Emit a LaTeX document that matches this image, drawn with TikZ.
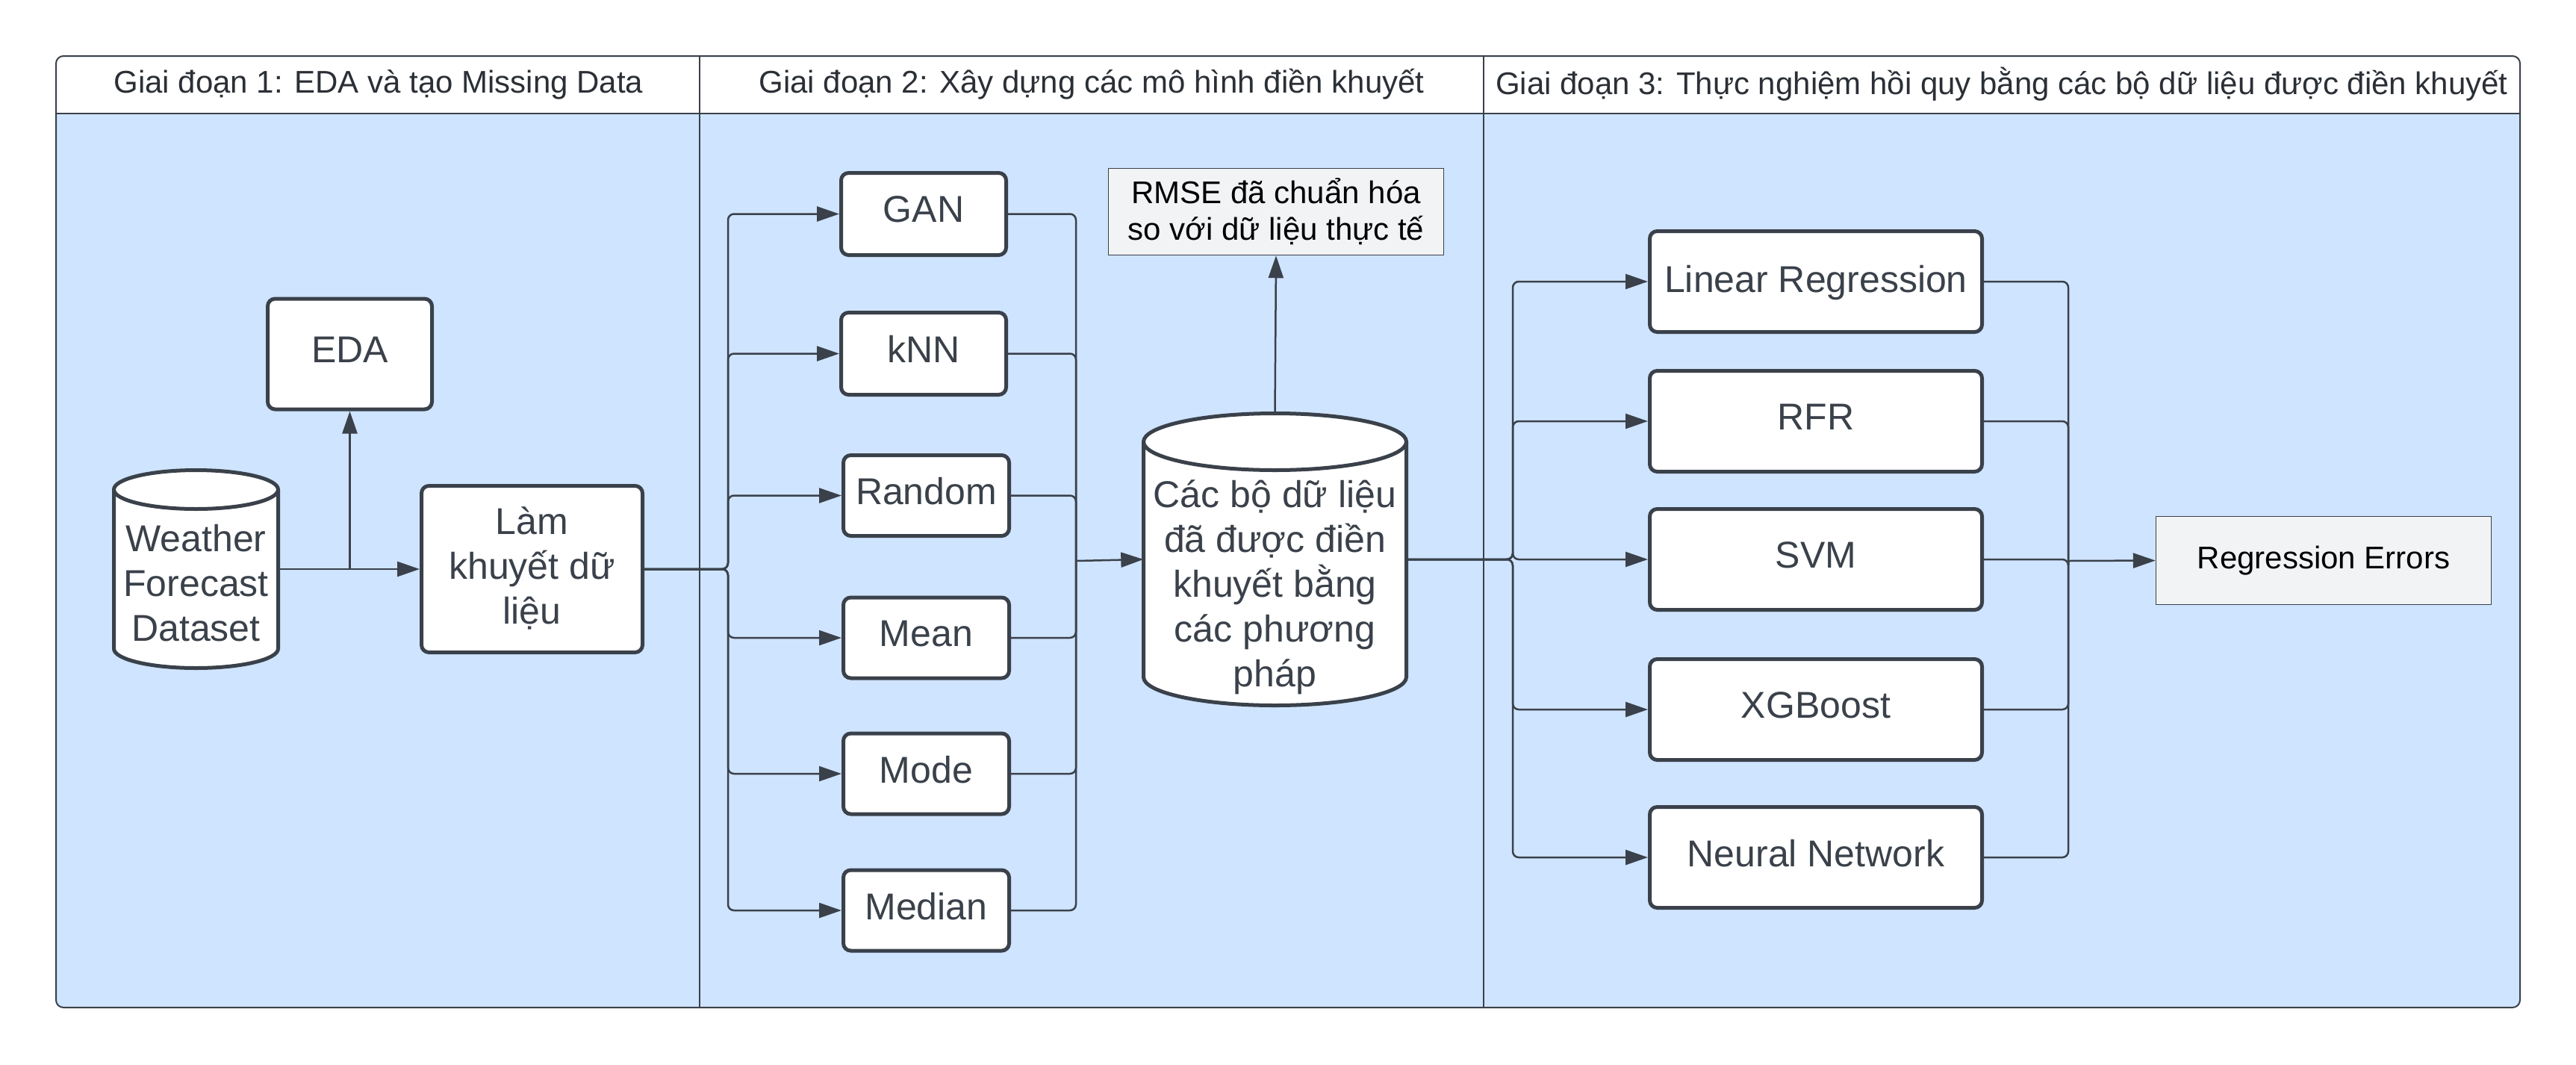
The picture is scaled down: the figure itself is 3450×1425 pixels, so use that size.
\documentclass[tikz,border=0pt]{standalone}
\usepackage{fontspec}
\setmainfont{Liberation Sans}
\usetikzlibrary{arrows.meta,backgrounds}
\definecolor{lc}{HTML}{3A414A}
\definecolor{bluebg}{HTML}{CFE4FF}
\definecolor{grayfill}{HTML}{F2F3F5}
\definecolor{hdr}{HTML}{2B2F36}
\begin{document}
\begin{tikzpicture}[x=1pt,y=1pt,
  box/.style={draw=lc, line width=5pt, rounded corners=10pt, fill=white, text=lc,
    font=\fontsize{50}{60}\selectfont, align=center, inner sep=0pt, text depth=12pt},
  box3/.style={box, text depth=8pt},
  note/.style={draw=lc, line width=1.5pt, fill=grayfill, text=black,
    font=\fontsize{42}{49}\selectfont, align=center, inner sep=0pt},
  cyltext/.style={text=lc, font=\fontsize{50}{60}\selectfont, align=center, inner sep=0pt},
  cylshape/.style={draw=lc, line width=5pt, fill=white},
  hdrtext/.style={text=hdr, font=\fontsize{42}{50}\selectfont, inner sep=0pt},
  conn/.style={draw=lc, line width=2.5pt, rounded corners=8pt, -{Triangle[length=30pt,width=20pt]}},
  link/.style={draw=lc, line width=2.5pt, rounded corners=8pt},
  frameline/.style={draw=lc, line width=2pt}
]
\useasboundingbox (0,0) rectangle (3450,-1425);
\fill[white] (0,0) rectangle (3450,-1425);

% ---- frame ----
\fill[bluebg, rounded corners=10pt] (75,-75) rectangle (3375,-1349);
\fill[white] (75,-152) [rounded corners=10pt] -- (75,-75) -- (3375,-75) [sharp corners] -- (3375,-152) -- cycle;
\draw[frameline, rounded corners=10pt] (75,-75) rectangle (3375,-1349);
\draw[frameline] (75,-152) -- (3375,-152);
\draw[frameline] (937,-75) -- (937,-1349);
\draw[frameline] (1987,-75) -- (1987,-1349);

\node[hdrtext] (h1) at (507,-113) {Giai đoạn 1: EDA và tạo Missing Data};
\node[hdrtext] (h2) at (1462,-113) {Giai đoạn 2: Xây dựng các mô hình điền khuyết};
\node[hdrtext] (h3) at (2681,-113) {Giai đoạn 3: Thực nghiệm hồi quy bằng các bộ dữ liệu được điền khuyết};

% ---- stage 1 ----
\node[minimum width=220pt, minimum height=265pt, inner sep=0pt] (wf) at (262.5,-762) {};
\draw[cylshape] (152.5,-655.5) -- (152.5,-868.5) arc[start angle=180, end angle=360, x radius=110, y radius=26]
  -- (372.5,-655.5) arc[start angle=0, end angle=180, x radius=110, y radius=26] -- cycle;
\draw[draw=lc, line width=5pt] (152.5,-655.5) arc[start angle=180, end angle=360, x radius=110, y radius=26];
\node[cyltext] (wftext) at (262.5,-781) {Weather\\Forecast\\Dataset};

\node[box, minimum width=220pt, minimum height=148pt] (eda) at (468.5,-474) {EDA};
\node[box, text depth=10pt, minimum width=296pt, minimum height=223pt] (lam) at (712.5,-762) {Làm\\khuyết dữ\\liệu};

\coordinate (edaj) at (468.5,-762);
\draw[conn] (wf.east) -- (lam.west);
\draw[conn] (edaj) -- (eda.south);

% ---- stage 2 ----
\node[box, minimum width=221pt, minimum height=110pt] (gan) at (1237,-286.5) {GAN};
\node[box, minimum width=221pt, minimum height=110pt] (knn) at (1237,-473.5) {kNN};
\node[box, minimum width=222pt, minimum height=108pt] (rnd) at (1240.5,-663.5) {Random};
\node[box, minimum width=222pt, minimum height=108pt] (mean) at (1240.5,-854) {Mean};
\node[box, minimum width=222pt, minimum height=108pt] (mode) at (1240.5,-1036) {Mode};
\node[box, minimum width=222pt, minimum height=108pt] (median) at (1240.5,-1219) {Median};

\node[minimum width=352pt, minimum height=391pt, inner sep=0pt] (cyl) at (1707.5,-749) {};
\draw[cylshape] (1531.5,-591.5) -- (1531.5,-906.5) arc[start angle=180, end angle=360, x radius=176, y radius=38]
  -- (1883.5,-591.5) arc[start angle=0, end angle=180, x radius=176, y radius=38] -- cycle;
\draw[draw=lc, line width=5pt] (1531.5,-591.5) arc[start angle=180, end angle=360, x radius=176, y radius=38];
\node[cyltext] (cyltxt) at (1707.5,-786) {Các bộ dữ liệu\\đã được điền\\khuyết bằng\\các phương\\pháp};

\node[note, minimum width=449pt, minimum height=116pt] (rmse) at (1709,-283.5) {RMSE đã chuẩn hóa\\so với dữ liệu thực tế};

\coordinate (fan2) at (975,-762);
\foreach \n in {gan,knn,rnd,mean,mode,median}{
  \draw[conn] (lam.east) -- (fan2) |- (\n.west);
}
\coordinate (mrg2) at (1441,-751);
\foreach \n in {gan,knn,rnd,mean,mode,median}{
  \draw[link] (\n.east) -| (mrg2);
}
\draw[conn] (mrg2) -- (cyl.west);
\draw[conn] (cyl.north) -- (rmse.south);

% ---- stage 3 ----
\node[box3, minimum width=445pt, minimum height=135pt] (lr) at (2432,-377) {Linear Regression};
\node[box, minimum width=445pt, minimum height=135pt] (rfr) at (2432,-564) {RFR};
\node[box, minimum width=445pt, minimum height=135pt] (svm) at (2432,-749) {SVM};
\node[box, minimum width=445pt, minimum height=135pt] (xgb) at (2432,-950) {XGBoost};
\node[box, minimum width=445pt, minimum height=135pt] (nn) at (2432,-1148) {Neural Network};

\node[note, minimum width=449pt, minimum height=118pt] (re) at (3112,-750.5) {Regression Errors};

\coordinate (fan3) at (2026,-749);
\foreach \n in {lr,rfr,svm,xgb,nn}{
  \draw[conn] (cyl.east) -- (fan3) |- (\n.west);
}
\coordinate (mrg3) at (2770,-751);
\foreach \n in {lr,rfr,svm,xgb,nn}{
  \draw[link] (\n.east) -| (mrg3);
}
\draw[conn] (mrg3) -- (re.west);
\end{tikzpicture}
\end{document}
